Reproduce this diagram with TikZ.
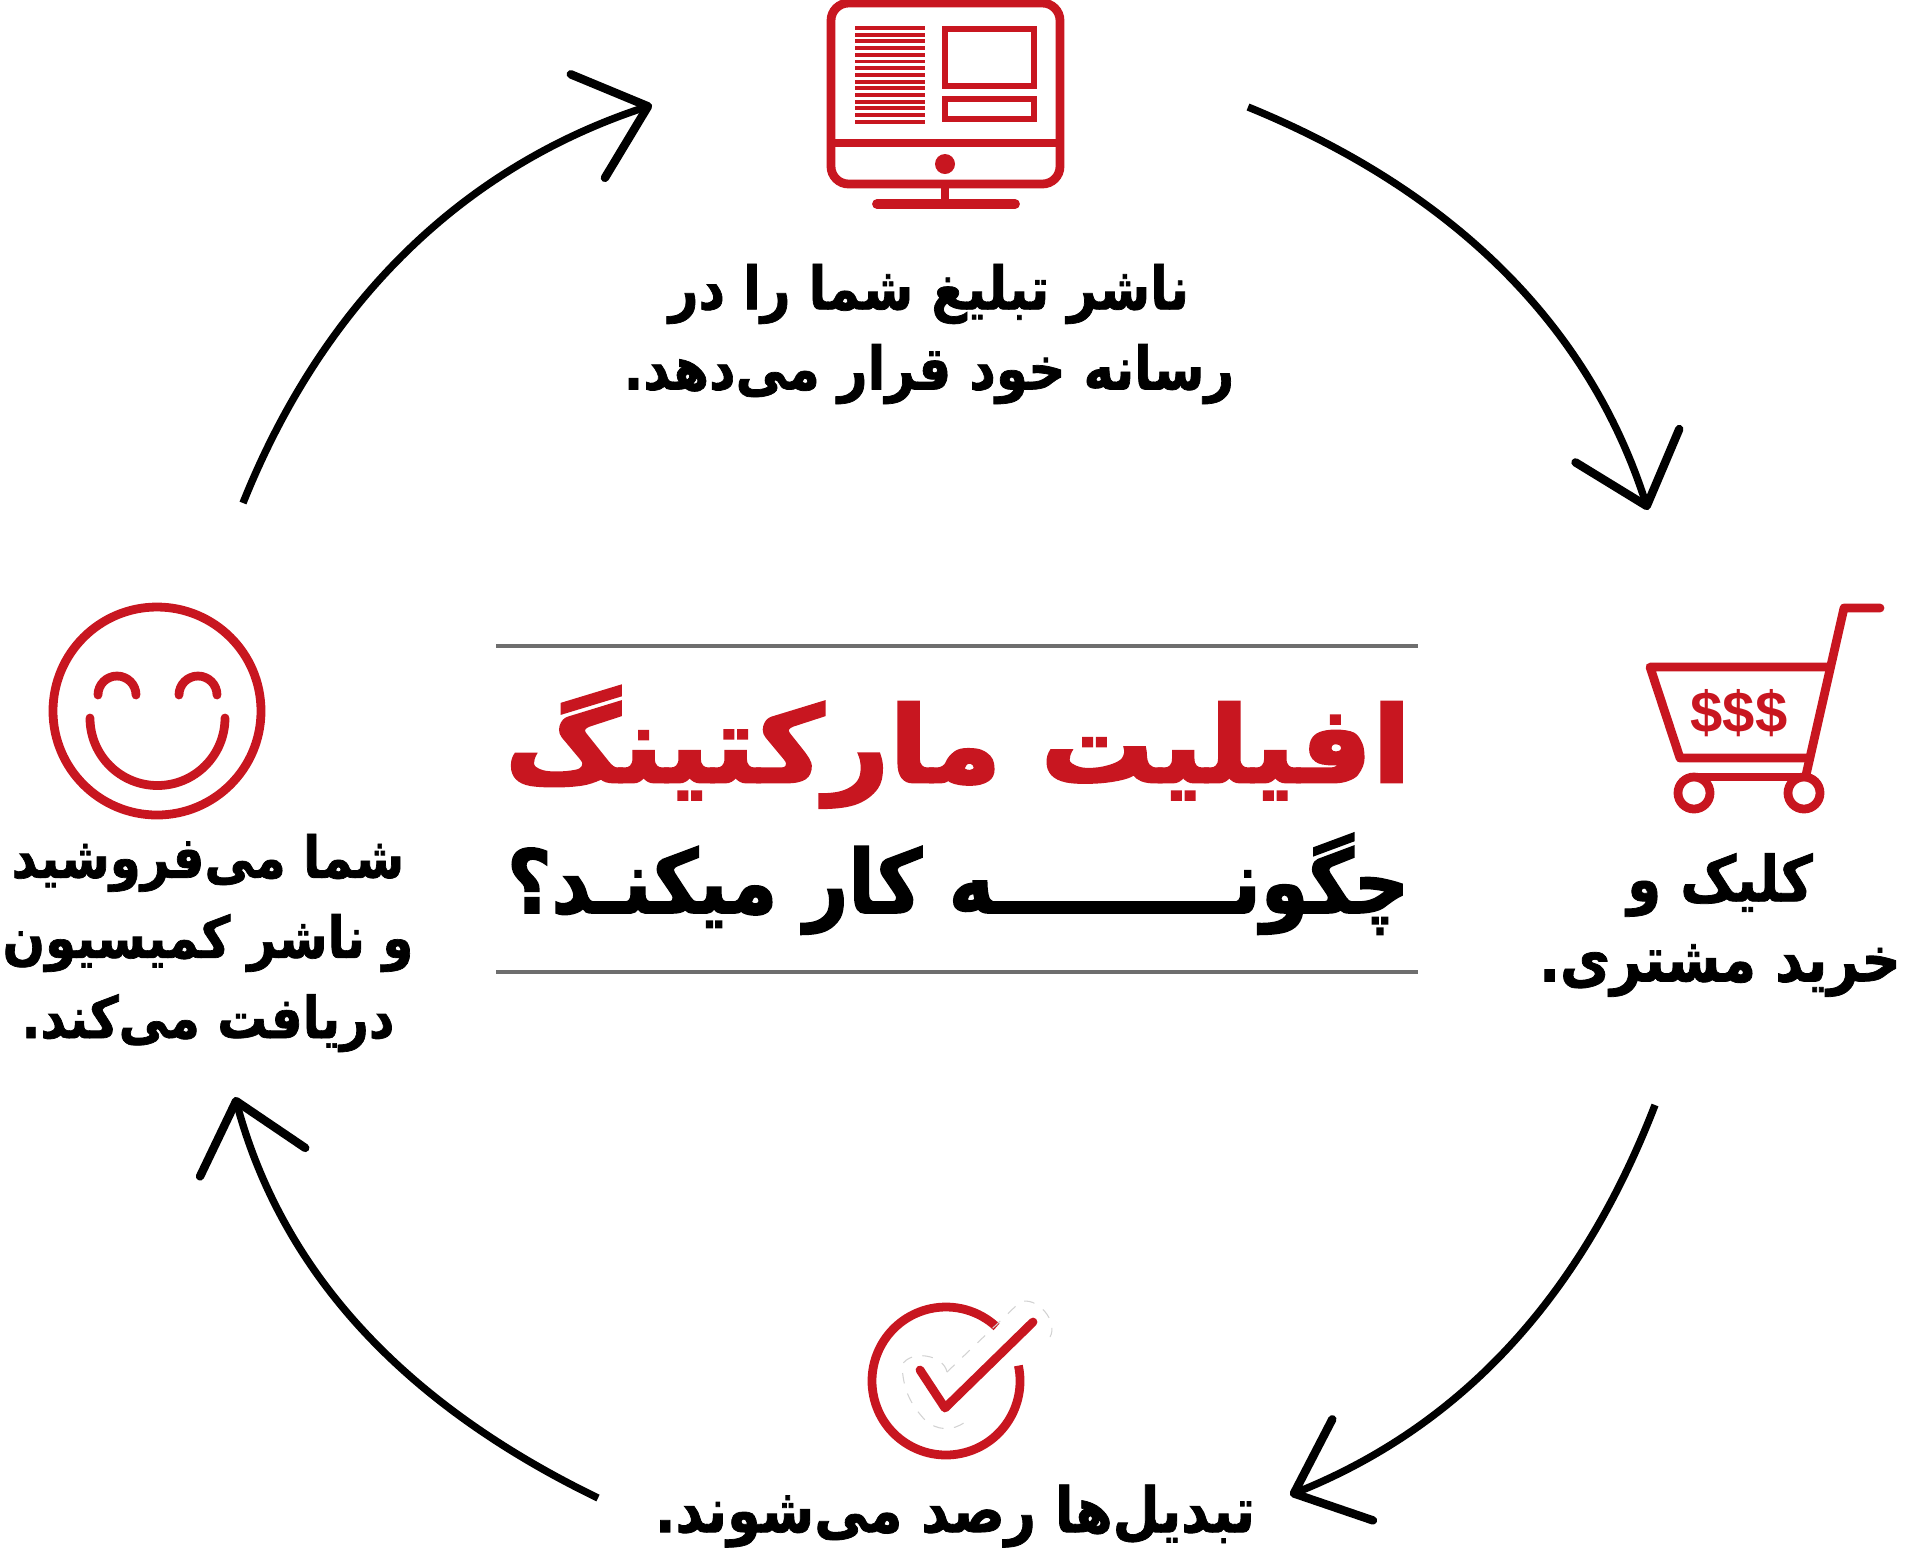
\documentclass[tikz,border=0pt]{standalone}
\usepackage{fontspec}
\usetikzlibrary{arrows.meta}
\TeXXeTstate=1
\newfontfamily\farsifont[Script=Arabic,FakeStretch=0.865,FakeBold=1.2]{DejaVu Sans}
\newfontfamily\farsititle[Script=Arabic,FakeStretch=1.07,FakeBold=2.6]{DejaVu Sans}
\newfontfamily\farsisub[Script=Arabic,FakeStretch=0.875,FakeBold=1.8]{DejaVu Sans}
\setmainfont{Liberation Sans}
\definecolor{iconred}{RGB}{200,22,32}
\definecolor{rulegray}{RGB}{110,110,110}

\begin{document}
\begin{tikzpicture}[x=0.1mm,y=-0.1mm]
  \tikzset{
    every node/.style={inner sep=0pt,align=center},
    loopline/.style={line width=2.1pt,looseness=0.93,-{Straight Barb[length=18pt,width=31pt,round,line width=2.4pt]}},
    iconline/.style={draw=iconred,line width=2.5pt},
    thinicon/.style={draw=iconred,line width=1.8pt},
    steplabel/.style={font=\farsifont\bfseries\fontsize{#1}{22.8}\selectfont},
    steplabel/.default=17,
    titlerule/.style={draw=rulegray,line width=0.9pt}
  }
  \useasboundingbox (0,0) rectangle (1920,1562);

  % monitor
  \draw[iconline,rounded corners=5pt] (831,3) rectangle (1060,184);
  \draw[iconline] (831,143) -- (1060,143);
  \fill[iconred] (945,164) circle (10);
  \draw[iconline] (945,188) -- (945,204);
  \draw[iconline,line cap=round,line width=2.8pt] (877,204) -- (1015,204);
  \foreach \y in {0,...,14}
    \draw[iconred,line width=1.1pt] (855,28+\y*6.7) -- (925,28+\y*6.7);
  \draw[thinicon] (945,29) rectangle (1034,86);
  \draw[thinicon] (945,99) rectangle (1034,119);

  % cart
  \draw[iconline,line join=round,line cap=round] (1880,608) -- (1844,608) -- (1806,775);
  \draw[iconline,line join=round,line cap=round] (1830,667) -- (1650,667) -- (1680,758) -- (1808,758);
  \draw[iconline] (1694,777) -- (1804,777);
  \draw[iconline,fill=white] (1694,793) circle (16);
  \draw[iconline,fill=white] (1804,793) circle (16);
  \node[text=iconred,font=\bfseries\fontsize{16.5}{18}\selectfont] (dollars) at (1739,713) {\$\$\$};

  % check mark
  \draw[iconline] (1018.4,1365.6) arc (-12:313:74);
  \draw[gray!35,line width=0.3pt,dashed] (947,1372) -- (1020,1302) to[bend left=70] (1050,1337);
  \draw[gray!35,line width=0.3pt,dashed] (947,1372) to[bend right=70] (902,1365) to[bend right=20] (925,1420) to[bend right=40] (965,1422);
  \draw[iconline,line cap=round,line join=round] (920,1370) -- (945,1408) -- (1033,1322);

  % smile
  \draw[iconline] (157,711) circle (104);
  \draw[iconline,line cap=round] (98,695) arc (180:360:19);
  \draw[iconline,line cap=round] (179,695) arc (180:360:19);
  \draw[iconline,line cap=round] (90,718) arc (180:0:67.5);

  % centre title
  \draw[titlerule] (496,646) -- (1418,646);
  \draw[titlerule] (496,972) -- (1418,972);
  \node[anchor=base,text=iconred,font=\farsititle\bfseries\fontsize{30}{36}\selectfont] (title) at (958,782) {\beginR افیلیت مارکتینگ\endR};
  \node[anchor=base,font=\farsisub\bfseries\fontsize{25}{30}\selectfont] (subtitle) at (958,913) {\beginR چگونـــــــــه کار میکنـد؟\endR};

  % step labels
  \node[steplabel] (publisher) at (929,334) {\beginR ناشر تبلیغ شما را در\endR\\\beginR رسانه خود قرار می‌دهد.\endR};
  \node[steplabel=18] (buyer) at (1720,925) {\beginR کلیک و\endR\\\beginR خرید مشتری.\endR};
  \node[steplabel=17.8] (convert) at (955,1516) {\beginR تبدیل‌ها رصد می‌شوند.\endR};
  \node[steplabel=16.4] (sale) at (208,943) {\beginR شما می‌فروشید\endR\\\beginR و ناشر کمیسیون\endR\\\beginR دریافت می‌کند.\endR};

  % cycle
  \coordinate (a1) at (243,503);
  \coordinate (b1) at (652,105);
  \coordinate (a2) at (1248,107);
  \coordinate (b2) at (1648,510);
  \coordinate (a3) at (1655,1105);
  \coordinate (b3) at (1290,1495);
  \coordinate (a4) at (598,1498);
  \coordinate (b4) at (235,1097);
  \draw[loopline] (a1) to[relative,out=24,in=154] (b1);
  \draw[loopline] (a2) to[relative,out=23,in=153] (b2);
  \draw[loopline] (a3) to[relative,out=22,in=155] (b3);
  \draw[loopline] (a4) to[relative,out=22,in=153] (b4);
\end{tikzpicture}
\end{document}
